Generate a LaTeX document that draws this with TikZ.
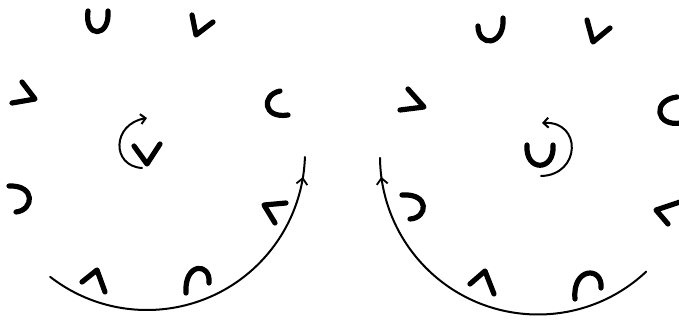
\documentclass[tikz,border=0pt]{standalone}
\usetikzlibrary{arrows.meta,decorations.markings}
\begin{document}
\begin{tikzpicture}[x=1pt,y=-1pt,
  glyph/.style={line width=5.2pt,line cap=round,line join=round},
  orbit/.style={line width=2pt,line cap=round},
  spin/.style={line width=2pt,line cap=round,-{Straight Barb[length=5pt,width=10pt,line width=2pt]}},
  midarrow/.style={postaction={decorate},decoration={markings,
     mark=at position #1 with {\arrow{Straight Barb[length=6pt,width=11pt,line width=1.8pt]}}}}]
\useasboundingbox[fill=white] (0,0) rectangle (679,320);

% ---------- left panel ----------
\coordinate (lc) at (147,152);
\draw[glyph] (88,11) .. controls (84,39) and (110,38) .. (108,11);      % U
\draw[glyph] (192,15) -- (196,35) -- (213,22);                            % V
\draw[glyph] (22,82) -- (35,99) -- (12,103);                              % >
\draw[glyph] (280,91) .. controls (261,95) and (263,119) .. (288,115);    % C
\draw[glyph] (134,146) -- (147,164) -- (160,144);                         % centre V
\draw[spin] (142,168) .. controls (111,166) and (112,124) .. (147,118);   % rotation arrow
\draw[glyph] (9,186) .. controls (36,185) and (34,210) .. (16,212);       % ⊃
\draw[glyph] (286,203) -- (264,205) -- (275,223);                         % V
\draw[glyph] (82,282) -- (97,270) -- (105,292);                           % Λ
\draw[glyph] (186,293) .. controls (184,262) and (211,262) .. (209,283);  % ∩
\draw[orbit,midarrow=0.942] (lc) ++(127.8:158) arc[start angle=127.8,end angle=1.8,radius=158];

% ---------- right panel ----------
\coordinate (rc) at (538,156.5);
\draw[glyph] (478,26) .. controls (478,48) and (505,46) .. (503,18);     % U
\draw[glyph] (587,20) -- (593,42) -- (610,28);                            % V
\draw[glyph] (408,89) -- (424,107) -- (400,110);                          % >
\draw[glyph] (677,97) .. controls (652,100) and (655,127) .. (681,123);   % C
\draw[glyph] (527,145) .. controls (525,172) and (555,172) .. (553,145);  % centre U
\draw[spin] (541,176) .. controls (581,175) and (582,121) .. (542,123);   % rotation arrow
\draw[glyph] (402,195) .. controls (430,193) and (428,218) .. (410,219);  % ⊃
\draw[glyph] (680,202) -- (656,210) -- (668,224);                         % V
\draw[glyph] (470,284) -- (485,271) -- (494,294);                         % Λ
\draw[glyph] (575,299) .. controls (572,267) and (603,266) .. (601,288);  % ∩
\draw[orbit,midarrow=0.948] (rc) ++(46.8:158) arc[start angle=46.8,end angle=179.5,radius=158];
\end{tikzpicture}
\end{document}
